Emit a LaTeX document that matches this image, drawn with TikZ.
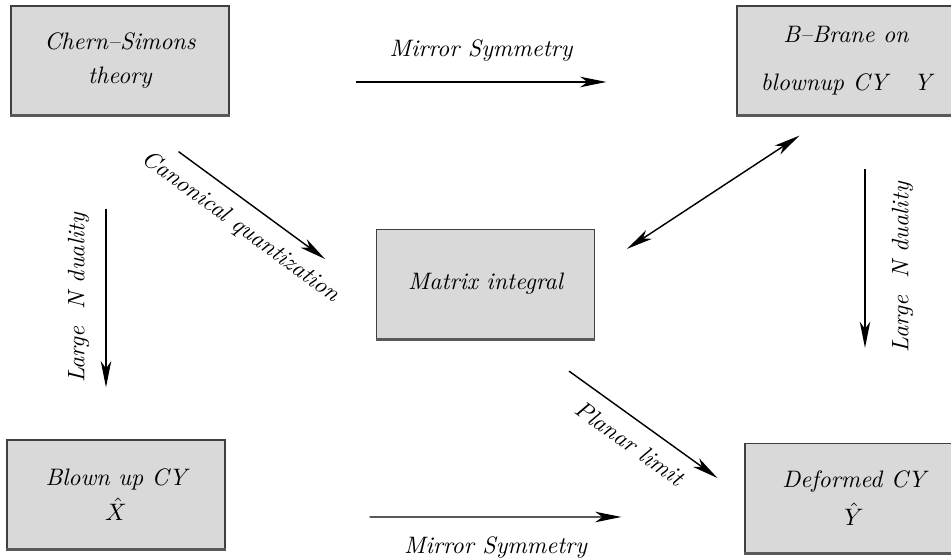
\documentclass[tikz,border=0pt]{standalone}
\usetikzlibrary{arrows.meta}
\begin{document}
\begin{tikzpicture}[
        x = 0.42pt, y = -0.42pt,
     font = \itshape,
  box/.style = {draw=black!75, fill=black!15, line width=0.5pt, minimum width=91.5pt, minimum height=45.8pt, align=center, inner sep=2pt},
  arr/.style = {-{Stealth[length=11pt, width=4.4pt, inset=3pt]}, line width=0.6pt},
  dbl/.style = {{Stealth[length=11pt, width=4.4pt, inset=3pt]}-{Stealth[length=11pt, width=4.4pt, inset=3pt]}, line width=0.6pt},
  lbl/.style = {inner sep=3.3pt, sloped}
                    ]
\useasboundingbox (0,0) rectangle (951,558);

\node[box] (cs) at (120,60.5) {Chern--Simons\\[2pt] theory};
\node[box] (bb) at (846,60.5) {B--Brane on\\[8pt] blownup CY\hspace{11pt}Y};
\node[box] (mi) at (485.5,284) {Matrix integral};
\node[box] (bx) at (116,494.5) {Blown up CY\\[3pt] $\hat{X}$};
\node[box] (dy) at (854,498) {Deformed CY\\[4pt] $\hat{Y}$};

\foreach \n in {cs,bb,mi,bx,dy}
  \draw[line width=1.2pt, black!65] (\n.south west) -- (\n.south east);

\path ([shift={(126,21.5)}]cs.east) edge[arr] node[midway, above=5pt] {Mirror Symmetry} ([shift={(-130,21.5)}]bb.west);
\path ([shift={(144,22.5)}]bx.east) edge[arr] node[midway, below=4.5pt] {Mirror Symmetry} ([shift={(-123,19)}]dy.west);
\path ([shift={(-14,93)}]cs.south) edge[arr] node[midway, rotate=90, anchor=south, inner sep=6.7pt] {Large\ \ N duality} ([shift={(-10,-52)}]bx.north);
\path ([shift={(19,53)}]bb.south) edge[arr] node[pos=0.55, rotate=90, anchor=north, inner sep=11pt] {Large\ \ N duality} ([shift={(11,-95)}]dy.north);
\path ([shift={(-51,36)}]cs.south east) edge[arr] node[lbl, pos=0.52, below=2pt] {Canonical quantization} ([shift={(-51,-25)}]mi.west);
\path ([shift={(83.5,32)}]mi.south) edge[arr] node[lbl, midway, below=2.5pt] {Planar limit} ([shift={(-27,-20)}]dy.west);
\path ([shift={(32,20)}]mi.north east) edge[dbl] ([shift={(63,20)}]bb.south west);

\end{tikzpicture}
\end{document}
